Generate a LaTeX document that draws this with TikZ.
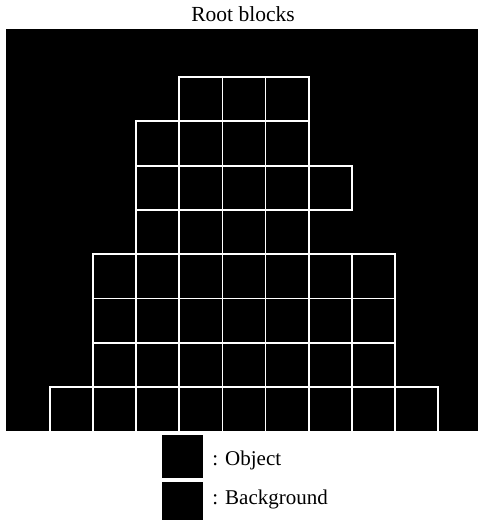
\documentclass[tikz,border=0pt]{standalone}
\usepackage{fontspec}
\setmainfont{Liberation Serif}
\usetikzlibrary{positioning}
\tikzset{
    cell/.style={draw=white, line width=1.8pt},
    keybox/.style={fill=black, minimum width=41pt, minimum height=43pt, inner sep=0pt},
    keytext/.style={font=\fontsize{21}{24}\selectfont, inner sep=0pt}
}
\begin{document}
\begin{tikzpicture}[x=1pt, y=-1pt]
    \useasboundingbox (0,0) rectangle (478,520);
    \node[font=\fontsize{21.5}{24}\selectfont] (title) at (243,14) {Root blocks};
    \fill[black] (6,29) rectangle (478,431);
    % block rows: row / first column / last column
    \begin{scope}
        \clip (6,29) rectangle (478,431);
        \foreach \r/\a/\b in {0/3/5, 1/2/5, 2/2/6, 3/2/5, 4/1/7, 5/1/7, 6/1/7, 7/0/8}
            \foreach \c in {\a,...,\b}
                \draw[cell] ({50+43.1*\c},{77+44.3*\r}) rectangle ++(43.1,44.3);
    \end{scope}
    % legend
    \node[keybox] (objkey) at (182.5,456.5) {};
    \node[keybox, below=4pt of objkey] (bgkey) {};
    \node[keytext, right=9pt of objkey, yshift=-4pt] (objtext) {: Object};
    \node[keytext, right=9pt of bgkey, yshift=4pt] (bgtext) {: Background};
\end{tikzpicture}
\end{document}
